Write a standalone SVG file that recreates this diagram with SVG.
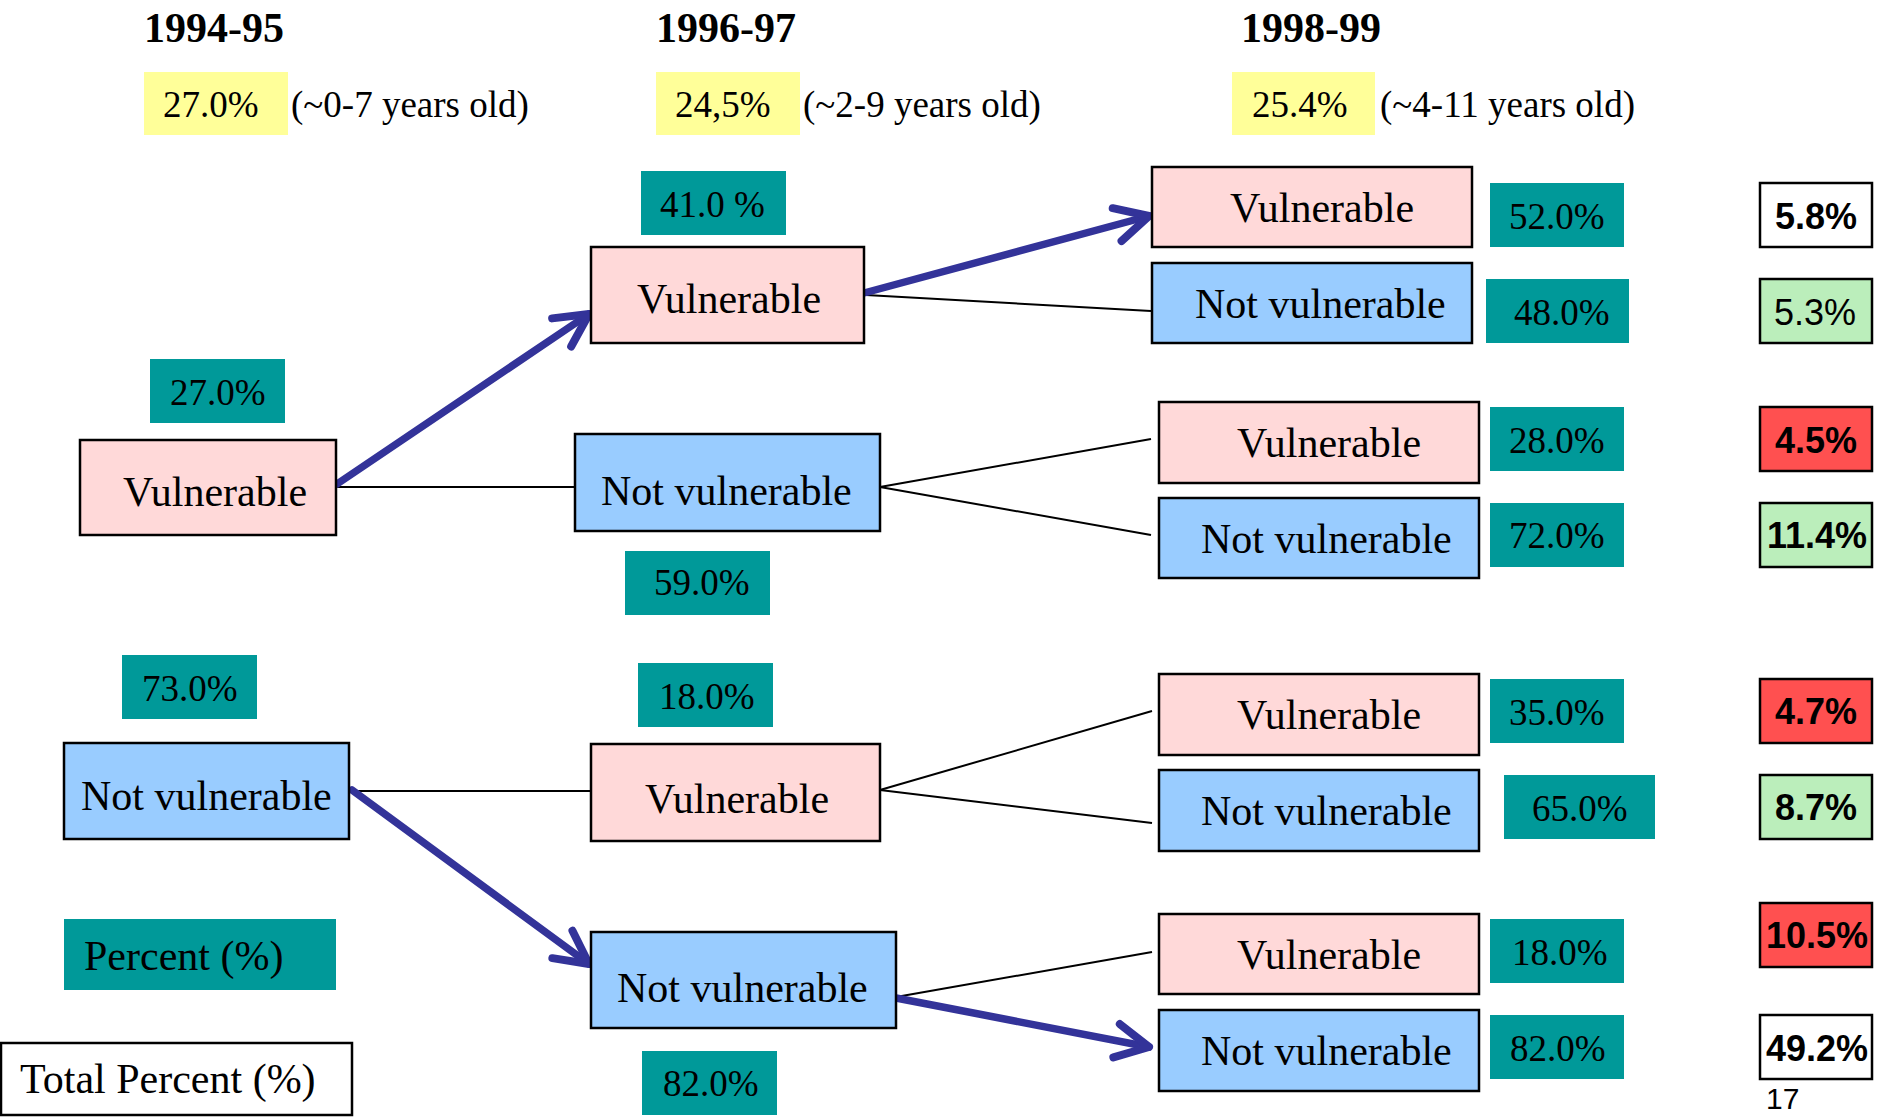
<svg xmlns="http://www.w3.org/2000/svg" width="1880" height="1117" viewBox="0 0 1880 1117">
<style>
.bg{fill:#ffffff}
.hdr{font-family:"Liberation Serif","Times New Roman",serif;font-weight:bold;font-size:42px;fill:#000}
.t{font-family:"Liberation Serif","Times New Roman",serif;font-size:37px;fill:#000}
.lbl{font-family:"Liberation Serif","Times New Roman",serif;font-size:42px;fill:#000}
.yel{fill:#FFFF99}
.teal{fill:#009999}
.pink{fill:#FFD9D9;stroke:#000;stroke-width:2.5}
.blue{fill:#99CCFF;stroke:#000;stroke-width:2.5}
.wbox{fill:#ffffff;stroke:#000;stroke-width:2.5}
.gbox{fill:#BBEEBB;stroke:#000;stroke-width:2.5}
.rbox{fill:#FF5050;stroke:#000;stroke-width:2.5}
.tot{font-family:"Liberation Sans",Arial,sans-serif;font-weight:bold;font-size:36px;fill:#000}
.totn{font-family:"Liberation Sans",Arial,sans-serif;font-size:36px;fill:#000}
.thin{stroke:#000;stroke-width:2;fill:none}
.arr{stroke:#333399;stroke-width:7.5;fill:none;stroke-linecap:round;marker-end:url(#ah)}
</style>
<defs>
<marker id="ah" viewBox="-45 -30 55 60" markerWidth="55" markerHeight="60" refX="0" refY="0" orient="auto" markerUnits="userSpaceOnUse">
<path d="M-33,-17 L0,0 L-33,17" fill="none" stroke="#333399" stroke-width="8" stroke-linecap="round" stroke-linejoin="round"/>
</marker>
</defs>
<rect class="bg" x="0" y="0" width="1880" height="1117"/>

<g id="headers">
<text class="hdr" x="144" y="42">1994-95</text>
<text class="hdr" x="656" y="42">1996-97</text>
<text class="hdr" x="1241" y="42">1998-99</text>
<rect class="yel" x="144" y="72" width="144" height="63"/>
<text class="t" x="163" y="117">27.0%</text>
<text class="t" x="291" y="117">(~0-7 years old)</text>
<rect class="yel" x="656" y="72" width="144" height="63"/>
<text class="t" x="675" y="117">24,5%</text>
<text class="t" x="803" y="117">(~2-9 years old)</text>
<rect class="yel" x="1232" y="72" width="143" height="63"/>
<text class="t" x="1252" y="117">25.4%</text>
<text class="t" x="1380" y="117">(~4-11 years old)</text>
</g>

<g id="connectors">
<line class="thin" x1="336" y1="487" x2="575" y2="487"/>
<line class="thin" x1="352" y1="791" x2="591" y2="791"/>
<line class="thin" x1="866" y1="295" x2="1151" y2="311"/>
<line class="thin" x1="880" y1="487" x2="1151" y2="439"/>
<line class="thin" x1="880" y1="487" x2="1151" y2="535"/>
<line class="thin" x1="880" y1="790" x2="1152" y2="711"/>
<line class="thin" x1="880" y1="790" x2="1152" y2="823"/>
<line class="thin" x1="896" y1="997" x2="1152" y2="952"/>
<line class="arr" x1="337" y1="484" x2="589" y2="314"/>
<line class="arr" x1="864" y1="293" x2="1149" y2="216"/>
<line class="arr" x1="352" y1="790" x2="589" y2="964"/>
<line class="arr" x1="896" y1="998" x2="1149" y2="1047"/>
</g>

<g id="n-l1">
<rect class="teal" x="150" y="359" width="135" height="64"/>
<text class="t" x="170" y="405">27.0%</text>
<rect class="pink" x="80" y="440" width="256" height="95"/>
<text class="lbl" x="123" y="506">Vulnerable</text>
</g>
<g id="n-l2">
<rect class="teal" x="122" y="655" width="135" height="64"/>
<text class="t" x="142" y="701">73.0%</text>
<rect class="blue" x="64" y="743" width="285" height="96"/>
<text class="lbl" x="81" y="810">Not vulnerable</text>
</g>
<g id="legend-percent">
<rect class="teal" x="64" y="919" width="272" height="71"/>
<text class="lbl" x="84" y="970">Percent (%)</text>
</g>
<g id="legend-total">
<rect class="wbox" x="1" y="1043" width="351" height="72"/>
<text class="lbl" x="20" y="1093">Total Percent (%)</text>
</g>

<g id="n-m1">
<rect class="teal" x="641" y="171" width="145" height="64"/>
<text class="t" x="660" y="217">41.0 %</text>
<rect class="pink" x="591" y="247" width="273" height="96"/>
<text class="lbl" x="637" y="313">Vulnerable</text>
</g>
<g id="n-m2">
<rect class="blue" x="575" y="434" width="305" height="97"/>
<text class="lbl" x="601" y="505">Not vulnerable</text>
<rect class="teal" x="625" y="551" width="145" height="64"/>
<text class="t" x="654" y="595">59.0%</text>
</g>
<g id="n-m3">
<rect class="teal" x="638" y="663" width="135" height="64"/>
<text class="t" x="659" y="709">18.0%</text>
<rect class="pink" x="591" y="744" width="289" height="97"/>
<text class="lbl" x="645" y="813">Vulnerable</text>
</g>
<g id="n-m4">
<rect class="blue" x="591" y="932" width="305" height="96"/>
<text class="lbl" x="617" y="1002">Not vulnerable</text>
<rect class="teal" x="642" y="1051" width="135" height="64"/>
<text class="t" x="663" y="1096">82.0%</text>
</g>

<g id="n-r1">
<rect class="pink" x="1152" y="167" width="320" height="80"/>
<text class="lbl" x="1230" y="222">Vulnerable</text>
<rect class="teal" x="1490" y="183" width="134" height="64"/>
<text class="t" x="1509" y="229">52.0%</text>
<rect class="wbox" x="1760" y="183" width="112" height="64"/>
<text class="tot" x="1775" y="229">5.8%</text>
</g>
<g id="n-r2">
<rect class="blue" x="1152" y="263" width="320" height="80"/>
<text class="lbl" x="1195" y="318">Not vulnerable</text>
<rect class="teal" x="1486" y="279" width="143" height="64"/>
<text class="t" x="1514" y="325">48.0%</text>
<rect class="gbox" x="1760" y="279" width="112" height="64"/>
<text class="totn" x="1774" y="325">5.3%</text>
</g>
<g id="n-r3">
<rect class="pink" x="1159" y="402" width="320" height="81"/>
<text class="lbl" x="1237" y="457">Vulnerable</text>
<rect class="teal" x="1490" y="407" width="134" height="64"/>
<text class="t" x="1509" y="453">28.0%</text>
<rect class="rbox" x="1760" y="407" width="112" height="64"/>
<text class="tot" x="1775" y="453">4.5%</text>
</g>
<g id="n-r4">
<rect class="blue" x="1159" y="498" width="320" height="80"/>
<text class="lbl" x="1201" y="553">Not vulnerable</text>
<rect class="teal" x="1490" y="503" width="134" height="64"/>
<text class="t" x="1509" y="548">72.0%</text>
<rect class="gbox" x="1760" y="503" width="112" height="64"/>
<text class="tot" x="1767" y="548">11.4%</text>
</g>
<g id="n-r5">
<rect class="pink" x="1159" y="674" width="320" height="81"/>
<text class="lbl" x="1237" y="729">Vulnerable</text>
<rect class="teal" x="1490" y="679" width="134" height="64"/>
<text class="t" x="1509" y="725">35.0%</text>
<rect class="rbox" x="1760" y="679" width="112" height="64"/>
<text class="tot" x="1775" y="724">4.7%</text>
</g>
<g id="n-r6">
<rect class="blue" x="1159" y="770" width="320" height="81"/>
<text class="lbl" x="1201" y="825">Not vulnerable</text>
<rect class="teal" x="1504" y="775" width="151" height="64"/>
<text class="t" x="1532" y="821">65.0%</text>
<rect class="gbox" x="1760" y="775" width="112" height="64"/>
<text class="tot" x="1775" y="820">8.7%</text>
</g>
<g id="n-r7">
<rect class="pink" x="1159" y="914" width="320" height="80"/>
<text class="lbl" x="1237" y="969">Vulnerable</text>
<rect class="teal" x="1490" y="919" width="134" height="64"/>
<text class="t" x="1512" y="965">18.0%</text>
<rect class="rbox" x="1760" y="903" width="112" height="64"/>
<text class="tot" x="1766" y="948">10.5%</text>
</g>
<g id="n-r8">
<rect class="blue" x="1159" y="1010" width="320" height="81"/>
<text class="lbl" x="1201" y="1065">Not vulnerable</text>
<rect class="teal" x="1490" y="1015" width="134" height="64"/>
<text class="t" x="1510" y="1061">82.0%</text>
<rect class="wbox" x="1760" y="1015" width="112" height="64"/>
<text class="tot" x="1766" y="1061">49.2%</text>
</g>
<text class="totn" x="1766" y="1109" style="font-size:30px">17</text>
</svg>
